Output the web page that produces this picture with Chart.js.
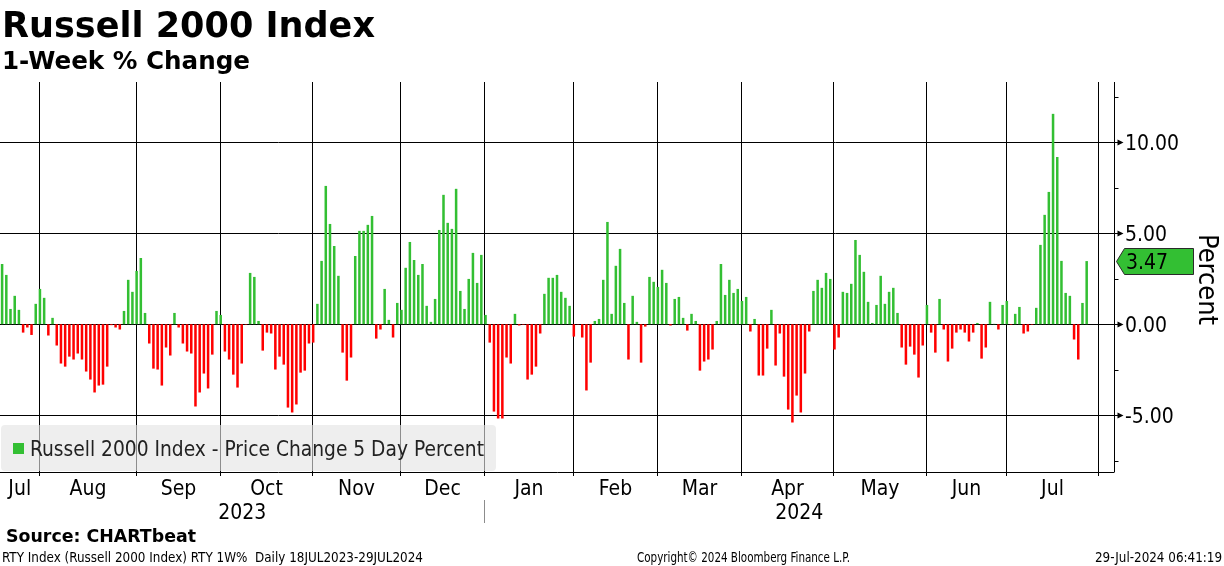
<!DOCTYPE html>
<html>
<head>
<meta charset="utf-8">
<title>Russell 2000 Index - 1-Week % Change</title>
<script src="https://cdn.jsdelivr.net/npm/chart.js@4.4.1/dist/chart.umd.min.js"></script>
<style>
  html, body { margin: 0; padding: 0; background: #fff; }
  canvas { display: block; }
</style>
</head>
<body>
<canvas id="chart" width="1224" height="566"></canvas>
<script>
// RTY 1W% change, one value per trading day from 18 Jul 2023 to 26 Jul 2024
const weeklyChange = [
  // Jul 2023
  3.31, 2.71, 0.84, 1.56, 0.79, -0.46, -0.18, -0.59, 1.12, 1.94,
  // Aug
  1.45, -0.62, 0.35, -1.17, -2.16, -2.33, -1.78, -1.94, -1.61, -1.94, -2.60, -3.04,
  -3.75, -3.37, -3.32, -2.33, -0.05, -0.18, -0.29, 0.73, 2.44, 1.78, 2.93,
  // Sep
  3.64, 0.62, -1.06, -2.44, -2.49, -3.37, -1.28, -1.72, 0.62, -0.18,
  -1.06, -1.50, -1.61, -4.52, -3.75, -2.71, -3.53, -1.67, 0.73, 0.51,
  // Oct
  -1.50, -1.94, -2.77, -3.48, -2.16, -0.03, 2.82, 2.60, 0.18, -1.45, -0.46,
  -0.51, -2.49, -1.78, -2.22, -4.58, -4.85, -4.41, -2.66, -2.55, -1.06, -1.01,
  // Nov
  1.12, 3.48, 7.60, 5.51, 4.30, 2.66, -1.56, -3.10, -1.83, 3.75, 5.13,
  5.13, 5.46, 5.95, -0.79, -0.29, 1.94, 0.24, -0.73, 1.17, 0.79,
  // Dec
  3.10, 4.52, 3.53, 2.71, 3.31, 1.01, 0.13, 1.39, 5.18, 7.11,
  5.57, 5.24, 7.44, 1.83, 0.84, 2.49, 3.92, 2.27, 3.81, 0.51,
  // Jan 2024
  -1.01, -4.80, -5.18, -5.18, -1.83, -2.16, 0.57, -0.07, -0.03, -3.04, -2.77,
  -2.33, -0.51, 1.67, 2.55, 2.55, 2.71, 1.78, 1.45, 1.01, -0.68,
  // Feb
  -0.02, -0.73, -3.64, -2.11, 0.18, 0.29, 2.44, 5.62, 0.57, 3.21,
  4.14, 1.17, -1.94, 1.56, 0.13, -2.11, -0.13, 2.60, 2.33, 2.05,
  // Mar
  2.99, 2.27, -0.07, 1.39, 1.50, 0.35, -0.35, 0.57, 0.18, -2.55,
  -2.05, -1.94, -1.39, 0.18, 3.31, 1.61, 2.44, 1.72, 1.94, 1.28,
  // Apr
  1.50, -0.40, 0.29, -2.82, -2.82, -1.34, 0.79, -2.27, -0.51, -2.88, -4.69,
  -5.40, -3.92, -4.85, -2.71, -0.40, 1.83, 2.44, 2.00, 2.82, 2.49, -1.39,
  // May
  -0.73, 1.78, 1.72, 2.22, 4.63, 3.81, 2.88, 1.23, 0.07, 1.06, 2.66,
  1.12, 1.78, 2.00, 0.62, -1.28, -2.22, -1.23, -1.67, -2.93, -1.17, 1.06,
  // Jun
  -0.46, -1.56, 1.39, -0.29, -2.05, -1.34, -0.46, -0.29, -0.46, -0.95,
  -0.46, 0.07, -1.89, -1.28, 1.23, 0.02, -0.29, 1.06, 1.28,
  // Jul
  -0.03, 0.57, 0.95, -0.51, -0.40, -0.03, 0.90, 4.36, 6.01, 7.27,
  11.56, 9.19, 3.48, 1.72, 1.56, -0.84, -1.94, 1.17, 3.47
];

// US market holidays inside the range (no bar on these days)
const holidays = [
  '2023-09-04', '2023-11-23', '2023-12-25', '2024-01-01', '2024-01-15',
  '2024-02-19', '2024-03-29', '2024-05-27', '2024-06-19', '2024-07-04'
];
const firstDay = [2023, 6, 18];
const emptySlots = 6;           // axis runs a few days past the last bar
const monthNames = ['Jan', 'Feb', 'Mar', 'Apr', 'May', 'Jun',
                    'Jul', 'Aug', 'Sep', 'Oct', 'Nov', 'Dec'];
const yMajorTicks = [-5, 0, 5, 10];
const yMinorTicks = [-7.5, -2.5, 2.5, 7.5, 12.5];
const lastValue = weeklyChange[weeklyChange.length - 1];

const green = '#33bf33';
const red = '#ff0000';

function tradingDays(n) {
  const out = [];
  const d = new Date(Date.UTC(firstDay[0], firstDay[1], firstDay[2]));
  while (out.length < n) {
    const iso = d.toISOString().slice(0, 10);
    const wd = d.getUTCDay();
    if (wd !== 0 && wd !== 6 && !holidays.includes(iso)) out.push(iso);
    d.setUTCDate(d.getUTCDate() + 1);
  }
  return out;
}
const days = tradingDays(weeklyChange.length + emptySlots);

const REG = '"DejaVu Sans Condensed", "DejaVu Sans", sans-serif';
const BOLD = '"DejaVu Sans", sans-serif';

// draw text, optionally stretched to a given width
function put(ctx, text, x, y, font, opt) {
  opt = opt || {};
  ctx.save();
  ctx.font = font;
  ctx.fillStyle = opt.color || '#000';
  ctx.textBaseline = 'alphabetic';
  ctx.textAlign = opt.align || 'left';
  const w = ctx.measureText(text).width;
  const s = opt.width ? opt.width / w : (opt.scale || 1);
  ctx.translate(x, y);
  if (opt.rotate) ctx.rotate(opt.rotate);
  ctx.scale(s, 1);
  ctx.fillText(text, 0, 0);
  ctx.restore();
}

function line(ctx, x1, y1, x2, y2) {
  ctx.beginPath();
  ctx.moveTo(x1, y1);
  ctx.lineTo(x2, y2);
  ctx.stroke();
}

const crisp = v => Math.round(v) + 0.5;

function monthBounds(chart) {
  const xs = chart.scales.x;
  const slot = xs.getPixelForValue(1) - xs.getPixelForValue(0);
  const out = [];
  for (let i = 1; i < days.length; i++) {
    if (days[i].slice(5, 7) !== days[i - 1].slice(5, 7)) {
      out.push({ last: i - 1, x: crisp(xs.getPixelForValue(i - 1) - 0.25 * slot) });
    }
  }
  return out;
}

const frame = {
  id: 'frame',
  beforeDatasetsDraw(chart) {
    const ctx = chart.ctx, a = chart.chartArea, ys = chart.scales.y;
    ctx.save();
    ctx.strokeStyle = '#000';
    ctx.lineWidth = 1;
    yMajorTicks.forEach(v => {
      const y = crisp(ys.getPixelForValue(v));
      line(ctx, a.left, y, a.right, y);
    });
    monthBounds(chart).forEach(b => line(ctx, b.x, a.top, b.x, a.bottom + 4));
    ctx.restore();
  },
  afterDatasetsDraw(chart) {
    const ctx = chart.ctx, a = chart.chartArea, ys = chart.scales.y;
    const bounds = monthBounds(chart);

    // legend box, see-through over the grid
    ctx.save();
    ctx.fillStyle = 'rgba(228,228,228,0.62)';
    ctx.beginPath();
    if (ctx.roundRect) ctx.roundRect(1, 425, 495, 46, 4); else ctx.rect(1, 425, 495, 46);
    ctx.fill();
    ctx.fillStyle = green;
    ctx.fillRect(13, 443, 11, 11);
    ctx.restore();
    put(ctx, 'Russell 2000 Index - Price Change 5 Day Percent', 30, 456, '21px ' + REG, { width: 454, color: '#222' });

    // axes
    ctx.save();
    ctx.strokeStyle = '#000';
    ctx.fillStyle = '#000';
    ctx.lineWidth = 1;
    const ax = crisp(a.right);
    line(ctx, ax, a.top, ax, a.bottom);
    line(ctx, a.left, crisp(a.bottom), ax, crisp(a.bottom));
    yMinorTicks.forEach(v => {
      const y = crisp(ys.getPixelForValue(v));
      line(ctx, ax, y, ax + 4, y);
    });
    yMajorTicks.forEach(v => {
      const y = crisp(ys.getPixelForValue(v));
      line(ctx, ax, y, ax + 4, y);
      ctx.beginPath();
      ctx.moveTo(ax + 3, y - 3);
      ctx.lineTo(ax + 9, y);
      ctx.lineTo(ax + 3, y + 3);
      ctx.closePath();
      ctx.fill();
    });
    ctx.restore();

    // common squeeze for axis text so "10.00" is ~54px wide
    ctx.save();
    ctx.font = '21px ' + REG;
    const k = 54 / ctx.measureText('10.00').width;
    ctx.restore();
    const axisFont = '21px ' + REG;

    yMajorTicks.forEach(v => {
      const y = ys.getPixelForValue(v);
      put(ctx, v.toFixed(2), a.right + 11, y + 7.5, axisFont, { scale: k });
    });

    // last value tag
    const ty = Math.round(ys.getPixelForValue(lastValue)) + 0.5;
    ctx.save();
    ctx.fillStyle = green;
    ctx.strokeStyle = '#2a2a2a';
    ctx.lineWidth = 1;
    ctx.beginPath();
    ctx.moveTo(ax + 2, ty);
    ctx.lineTo(ax + 10, ty - 13);
    ctx.lineTo(1193.5, ty - 13);
    ctx.lineTo(1193.5, ty + 13);
    ctx.lineTo(ax + 10, ty + 13);
    ctx.closePath();
    ctx.fill();
    ctx.stroke();
    ctx.restore();
    put(ctx, lastValue.toFixed(2), a.right + 12, ty + 7.5, axisFont, { scale: k });

    // axis title
    put(ctx, 'Percent', 1199, 234, '26px ' + REG, { width: 91, rotate: Math.PI / 2 });

    // month and year labels
    let start = a.left;
    bounds.forEach(b => {
      const m = +days[b.last].slice(5, 7) - 1;
      put(ctx, monthNames[m], (start + b.x) / 2, 495, axisFont, { scale: k, align: 'center' });
      start = b.x;
    });
    const jan = bounds.find(b => days[b.last + 1].slice(5, 7) === '01');
    put(ctx, days[0].slice(0, 4), (a.left + jan.x) / 2, 519, axisFont, { scale: k, align: 'center' });
    put(ctx, days[jan.last + 1].slice(0, 4), (jan.x + a.right) / 2, 519, axisFont, { scale: k, align: 'center' });
    ctx.save();
    ctx.strokeStyle = '#8c8c8c';
    line(ctx, jan.x, a.bottom + 28, jan.x, a.bottom + 51);
    ctx.restore();

    // titles and footer
    put(ctx, 'Russell 2000 Index', 2, 37, 'bold 35px ' + BOLD, { width: 373 });
    put(ctx, '1-Week % Change', 2, 69, 'bold 24px ' + BOLD, { width: 248 });
    put(ctx, 'Source: CHARTbeat', 6, 542, 'bold 17px ' + BOLD, { width: 190 });
    put(ctx, 'RTY Index (Russell 2000 Index) RTY 1W%  Daily 18JUL2023-29JUL2024', 2, 562, '13.5px ' + REG, { width: 421 });
    put(ctx, 'Copyright\u00a9 2024 Bloomberg Finance L.P.', 637, 562, '13.5px ' + REG, { width: 213 });
    put(ctx, '29-Jul-2024 06:41:19', 1095, 562, '13.5px ' + REG, { width: 127 });
  }
};

new Chart(document.getElementById('chart').getContext('2d'), {
  type: 'bar',
  data: {
    labels: days,
    datasets: [{
      label: 'Russell 2000 Index - Price Change 5 Day Percent',
      data: weeklyChange,
      backgroundColor: c => (c.raw >= 0 ? green : red),
      borderWidth: 0,
      categoryPercentage: 1,
      barPercentage: 0.6
    }]
  },
  options: {
    responsive: false,
    animation: false,
    layout: { padding: { left: 0, right: 110, top: 82, bottom: 94 } },
    scales: {
      x: { display: false, offset: true },
      y: { display: false, min: -8.12, max: 13.31 }
    },
    plugins: {
      legend: { display: false },
      tooltip: { enabled: false }
    }
  },
  plugins: [frame]
});
</script>
</body>
</html>
